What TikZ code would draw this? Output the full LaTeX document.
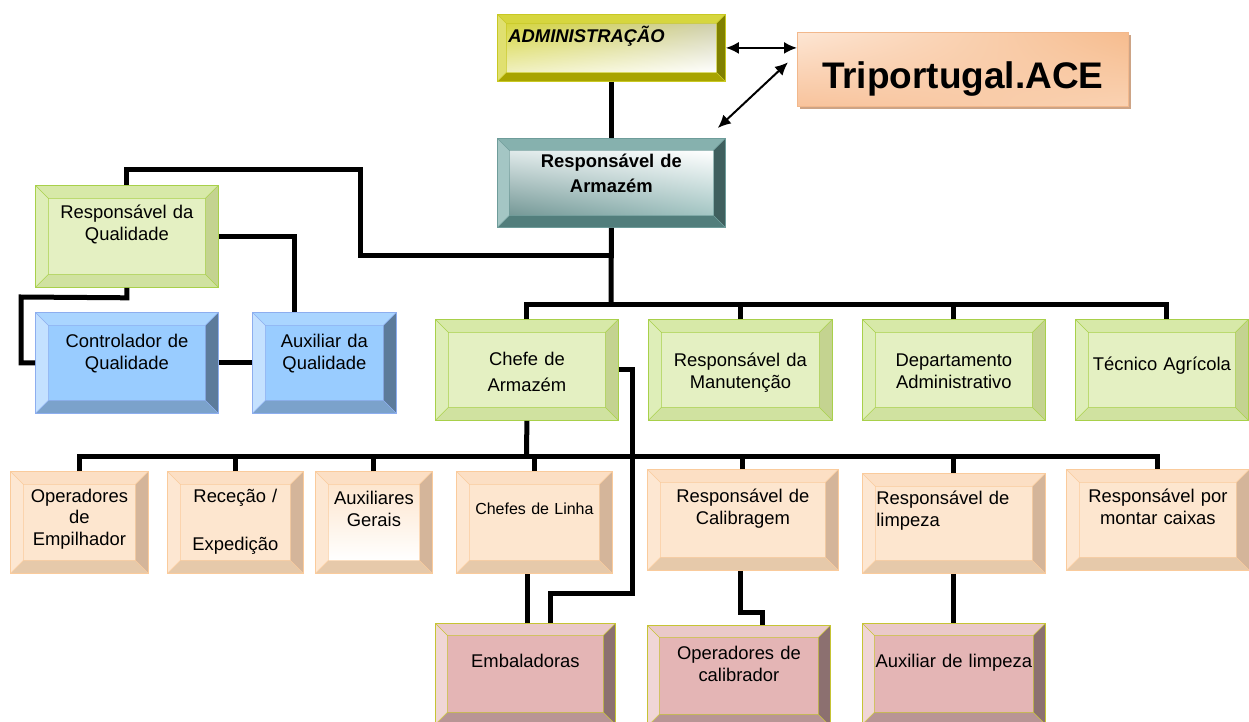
\documentclass[tikz,border=0pt]{standalone}
\usepackage{fontspec}
\setmainfont{Liberation Sans}
\usepackage{tikz}
\usetikzlibrary{positioning}
\usetikzlibrary{shapes,arrows.meta,shadows,shadings}

\definecolor{grnF}{HTML}{E4F0C2}\definecolor{grnD}{HTML}{A8D04A}
\definecolor{grnT}{HTML}{D7E9A8}\definecolor{grnL}{HTML}{DEEEB8}
\definecolor{grnR}{HTML}{C4D390}\definecolor{grnB}{HTML}{D0E2A0}
\definecolor{bluF}{HTML}{99CCFF}\definecolor{bluD}{HTML}{8DAEEF}
\definecolor{bluT}{HTML}{AAD5FF}\definecolor{bluL}{HTML}{C4E1FF}
\definecolor{bluR}{HTML}{5C7B9B}\definecolor{bluB}{HTML}{7BA2CB}
\definecolor{pchF}{HTML}{FDE6CF}\definecolor{pchD}{HTML}{FACB9C}
\definecolor{pchT}{HTML}{FCDFC4}\definecolor{pchL}{HTML}{FDE7D2}
\definecolor{pchR}{HTML}{D4B59A}\definecolor{pchB}{HTML}{E6C9AA}
\definecolor{pnkF}{HTML}{E4B5B5}\definecolor{pnkD}{HTML}{C6C434}
\definecolor{pnkT}{HTML}{EAC9C9}\definecolor{pnkL}{HTML}{F0D6D6}
\definecolor{pnkR}{HTML}{8C7070}\definecolor{pnkB}{HTML}{B89595}
\definecolor{admF}{HTML}{F0F0C0}\definecolor{admD}{HTML}{C8C822}
\definecolor{admT}{HTML}{D6D63E}\definecolor{admL}{HTML}{E0E070}
\definecolor{admR}{HTML}{808000}\definecolor{admB}{HTML}{A8A400}
\definecolor{teaF}{HTML}{E0EAEA}\definecolor{teaD}{HTML}{6E9C9A}
\definecolor{teaT}{HTML}{86B1AE}\definecolor{teaL}{HTML}{A4C6C4}
\definecolor{teaR}{HTML}{3F5F5E}\definecolor{teaB}{HTML}{527E7C}
\definecolor{triD}{HTML}{F2B88C}\definecolor{triUL}{HTML}{FDE6D4}
\definecolor{triUR}{HTML}{F6BC8E}\definecolor{triLL}{HTML}{F8C39C}
\definecolor{triLR}{HTML}{FAD2B2}\definecolor{triS}{HTML}{CDA486}

\newlength{\bvw}
\tikzset{
bw/.code = {\setlength{\bvw}{#1}},
facein/.style = {},
bevel/.style = {draw=#1D, fill=#1F, line width=0.8pt, rectangle, anchor=north west,
    inner sep=0pt, align=center, font=\fontsize{18.4}{22}\selectfont,
    path picture={
      \path (path picture bounding box.north west) coordinate (c1)
            (path picture bounding box.north east) coordinate (c2)
            (path picture bounding box.south east) coordinate (c3)
            (path picture bounding box.south west) coordinate (c4)
            ([shift={(\bvw,-\bvw)}]c1) coordinate (d1)
            ([shift={(-\bvw,-\bvw)}]c2) coordinate (d2)
            ([shift={(-\bvw,\bvw)}]c3) coordinate (d3)
            ([shift={(\bvw,\bvw)}]c4) coordinate (d4);
      \fill[#1T] (c1) -- (c2) -- (d2) -- (d1) -- cycle;
      \fill[#1R] (c2) -- (c3) -- (d3) -- (d2) -- cycle;
      \fill[#1B] (c3) -- (c4) -- (d4) -- (d3) -- cycle;
      \fill[#1L] (c4) -- (c1) -- (d1) -- (d4) -- cycle;
      \path[facein] (d1) rectangle (d3);
      \draw[#1D, line width=0.6pt] (d1) rectangle (d3)
            (c1) -- (d1) (c2) -- (d2) (c3) -- (d3) (c4) -- (d4);
    }},
tribox/.style = {draw=triD, line width=0.6pt, rectangle, anchor=north west, inner sep=0pt,
    upper left=triUL, upper right=triUR, lower left=triLL, lower right=triLR,
    drop shadow={shadow xshift=3pt, shadow yshift=-3pt, fill=triS, opacity=1},
    font=\fontsize{37}{40}\selectfont\bfseries},
conn/.style = {line width=5pt},
link/.style = {<->, line width=2pt}
}

\begin{document}
\begin{tikzpicture}[x=1pt, y=-1pt, >={Latex[length=13pt,width=12pt]}]
    \useasboundingbox (0,0) rectangle (1249,722);
    % top of the chart
    \node [bevel=adm, bw=9pt, align=left, inner xsep=11pt, text width=206pt,
           text height=28pt, text depth=39pt, font=\fontsize{18.4}{22}\selectfont\bfseries\itshape,
           facein/.style={upper left=admT, upper right=admF!70!gray, lower left=admF, lower right=white}]
           (admin) at (497,14) {ADMINISTRAÇÃO};
    \node [tribox, minimum width=331pt, text height=56pt, text depth=18pt] (tri) at (797,32) {Triportugal.ACE};
    \node [bevel=tea, bw=12pt, text width=228pt, text height=29pt, text depth=60pt,
           font=\fontsize{18.4}{25}\selectfont\bfseries,
           facein/.style={upper left=teaF, upper right=white, lower left=teaB!80!white, lower right=teaL}]
           (arm) at (497,138) {Responsável de\\Armazém};

    % quality
    \node [bevel=grn, bw=13pt, text width=183pt, text height=33pt, text depth=69pt] (qual) at (35,185) {Responsável da\\Qualidade};
    \node [bevel=blu, bw=13pt, text width=183pt, text height=35pt, text depth=66pt] (ctrl) at (35,312) {Controlador de\\Qualidade};
    \node [bevel=blu, bw=13pt, text width=144pt, text height=35pt, text depth=66pt] (aux) at (252,312) {Auxiliar da\\Qualidade};

    % second level
    \node [bevel=grn, bw=13pt, text width=183pt, text height=46pt, text depth=55pt,
           font=\fontsize{18.4}{26}\selectfont] (chefe) at (435,319) {Chefe de\\Armazém};
    \node [bevel=grn, bw=13pt, text width=184pt, text height=47pt, text depth=54pt] (manut) at (648,319) {Responsável da\\Manutenção};
    \node [bevel=grn, bw=13pt, text width=183pt, text height=47pt, text depth=54pt] (depto) at (862,319) {Departamento\\Administrativo};
    \node [bevel=grn, bw=13pt, text width=173pt, text height=51pt, text depth=50pt] (tec) at (1075,319) {Técnico Agrícola};

    % third level
    \node [bevel=pch, bw=13pt, text width=138pt, text height=31pt, text depth=71pt,
           font=\fontsize{18.4}{21.5}\selectfont] (oper) at (10,471) {Operadores\\de\\Empilhador};
    \node [bevel=pch, bw=13pt, text width=136pt, text height=31pt, text depth=71pt] (rec) at (167,471) {Receção /\\[26pt]Expedição};
    \node [bevel=pch, bw=13pt, text width=117pt, text height=33pt, text depth=69pt,
           facein/.style={top color=pchF, bottom color=white}] (auxg) at (315,471) {Auxiliares\\Gerais};
    \node [bevel=pch, bw=13pt, text width=156pt, text height=43pt, text depth=59pt,
           font=\fontsize{16}{20}\selectfont] (linha) at (456,471) {Chefes de Linha};
    \node [bevel=pch, bw=13pt, text width=191pt, text height=33pt, text depth=68pt] (calib) at (647,469) {Responsável de\\Calibragem};
    \node [bevel=pch, bw=13pt, align=left, inner xsep=14pt, text width=155pt, text height=31pt, text depth=69pt] (limp) at (862,473) {Responsável de\\limpeza};
    \node [bevel=pch, bw=13pt, text width=183pt, text height=33pt, text depth=68pt] (montar) at (1066,469) {Responsável por\\montar caixas};

    % fourth level
    \node [bevel=pnk, bw=12pt, text width=180pt, text height=44pt, text depth=57pt] (emb) at (435,623) {Embaladoras};
    \node [bevel=pnk, bw=12pt, text width=183pt, text height=34pt, text depth=67pt] (opcal) at (647,625) {Operadores de\\calibrador};
    \node [bevel=pnk, bw=12pt, text width=183pt, text height=44pt, text depth=57pt] (auxl) at (862,623) {Auxiliar de limpeza};

    \coordinate (top bus) at (611,304);
    \coordinate (q bend) at (611,255);
    \coordinate (low bus) at (526.5,456);

    % connectors
    \draw [conn] (admin.south) -- (arm.north);
    \draw [conn] (arm.south) -- (top bus);
    \draw [conn] (chefe.north) |- (top bus) -| ([xshift=5pt]tec.north);
    \draw [conn] (manut.north) -- (manut.north |- top bus);
    \draw [conn] (depto.north) -- (depto.north |- top bus);
    \draw [conn] (q bend) -- (360,255) -- (360,170) -| (qual.north);
    \draw [conn] (qual.east) -| ([xshift=-30pt]aux.north);
    \draw [conn] (qual.south) -- ++(0,10) -- (21,297) |- (ctrl.west);
    \draw [conn] (ctrl.east) -- (aux.west);

    \draw [conn] (chefe.south) -- (low bus);
    \draw [conn] (oper.north) |- (low bus) -| (montar.north);
    \foreach \n in {rec,auxg,linha,calib,limp}
        \draw [conn] (\n.north) -- (\n.north |- low bus);
    \draw [conn] ([xshift=2pt]emb.north) -- ([xshift=2pt]emb.north |- linha.south);
    \draw [conn] (chefe.east) -| (632,593) -| ([xshift=25pt]emb.north);
    \draw [conn] ([xshift=-2pt]calib.south) -- ++(0,42) -| ([xshift=24pt]opcal.north);
    \draw [conn] (limp.south) -- (auxl.north);

    \draw [link] (admin.east) -- (admin.east -| tri.west);
    \draw [link] ([shift={(-8pt,10pt)}]arm.north east) -- ([shift={(-9pt,7pt)}]tri.west);
\end{tikzpicture}
\end{document}
